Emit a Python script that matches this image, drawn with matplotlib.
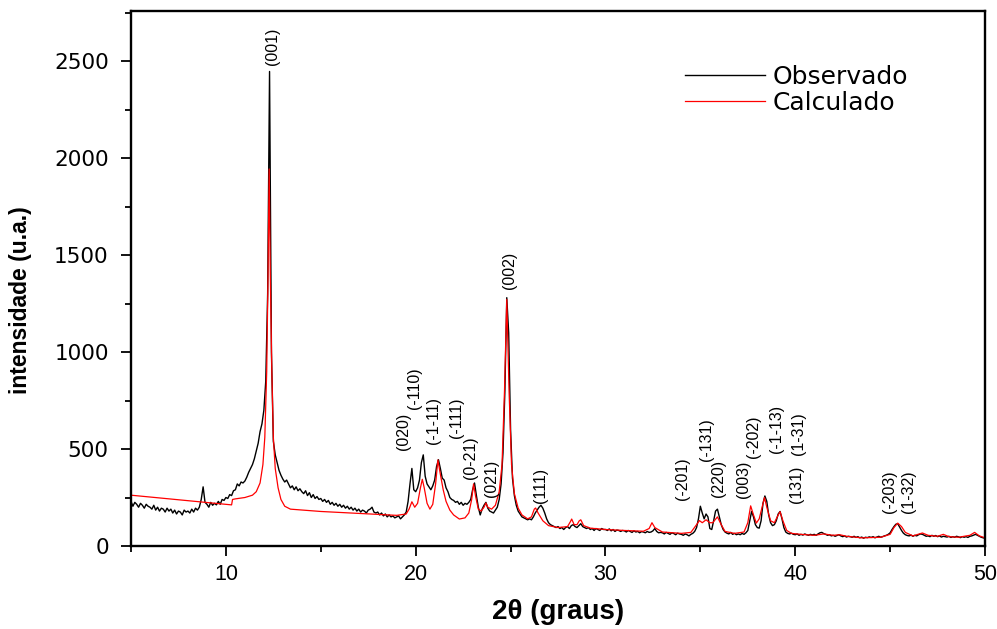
import numpy as np
import matplotlib
matplotlib.use("Agg")
import matplotlib.pyplot as plt
from matplotlib.ticker import MultipleLocator

start_angle = 5.0
angle_step = 0.1
observado = [
    230, 205, 225, 215, 200, 220, 210, 195, 215, 205,   # 5
    200, 190, 210, 185, 200, 180, 195, 190, 175, 195,   # 6
    180, 190, 170, 185, 165, 180, 175, 160, 185, 175,   # 7
    180, 170, 190, 175, 195, 185, 200, 240, 305, 225,   # 8
    215, 200, 225, 210, 220, 212, 230, 215, 240, 235,   # 9
    250, 245, 265, 260, 285, 290, 320, 310, 330, 325,   # 10
    335, 355, 380, 400, 420, 450, 490, 530, 590, 630,   # 11
    700, 850, 1300, 2448, 1000, 540, 470, 430, 390, 365,  # 12
    345, 330, 340, 320, 300, 310, 290, 305, 285, 295,   # 13
    280, 270, 285, 260, 275, 250, 265, 245, 255, 240,   # 14
    245, 230, 240, 225, 235, 215, 225, 210, 220, 205,   # 15
    215, 200, 210, 195, 205, 190, 200, 185, 195, 180,   # 16
    190, 175, 185, 180, 170, 185, 190, 200, 175, 170,   # 17
    175, 160, 170, 155, 165, 150, 160, 150, 155, 145,   # 18
    150, 155, 140, 150, 160, 175, 230, 320, 400, 290,   # 19
    280, 300, 340, 430, 470, 360, 320, 305, 290, 310,   # 20
    340, 410, 445, 400, 350, 340, 300, 280, 250, 240,   # 21
    235, 225, 230, 215, 225, 210, 220, 215, 225, 240,   # 22
    290, 325, 260, 200, 160, 190, 210, 225, 195, 180,   # 23
    175, 170, 185, 200, 240, 320, 480, 800, 1281, 1100,  # 24
    600, 350, 260, 210, 180, 165, 150, 145, 140, 135,   # 25
    140, 135, 150, 170, 185, 200, 210, 195, 170, 140,   # 26
    120, 110, 105, 100, 95, 100, 90, 95, 85, 95,        # 27
    100, 90, 105, 110, 100, 95, 105, 115, 100, 95,      # 28
    90, 95, 85, 90, 80, 90, 85, 80, 90, 85,             # 29
    85, 80, 88, 78, 85, 75, 82, 80, 75, 80,             # 30
    78, 72, 80, 75, 70, 78, 72, 75, 68, 74,             # 31
    72, 68, 75, 70, 72, 78, 90, 75, 68, 70,             # 32
    68, 62, 70, 65, 60, 68, 64, 58, 66, 62,             # 33
    60, 55, 62, 58, 52, 60, 65, 75, 95, 140,            # 34
    205, 170, 140, 165, 150, 90, 85, 130, 180, 190,     # 35
    150, 110, 85, 72, 66, 62, 70, 60, 65, 58,           # 36
    62, 58, 65, 60, 68, 80, 130, 178, 150, 110,         # 37
    95, 92, 130, 220, 258, 230, 160, 120, 105, 110,     # 38
    130, 165, 178, 140, 95, 72, 65, 62, 66, 60,         # 39
    58, 62, 55, 60, 56, 62, 58, 55, 60, 57,             # 40
    60, 55, 62, 68, 70, 64, 60, 55, 58, 52,             # 41
    55, 50, 54, 58, 52, 48, 52, 46, 50, 48,             # 42
    45, 50, 44, 48, 42, 46, 40, 45, 43, 47,             # 43
    44, 48, 42, 46, 50, 45, 48, 52, 55, 60,             # 44
    68, 85, 100, 112, 115, 98, 80, 66, 58, 54,          # 45
    52, 56, 50, 55, 52, 58, 62, 60, 55, 50,             # 46
    52, 48, 55, 50, 54, 48, 52, 46, 50, 48,             # 47
    46, 50, 44, 48, 45, 50, 47, 43, 48, 45,             # 48
    48, 44, 50, 52, 56, 60, 55, 50, 45, 42,             # 49
    40,                                                 # 50
]
angulo_obs = start_angle + angle_step * np.arange(len(observado))

# calculated (fitted) profile
angulo_calc = [
    5.0, 10.3, 10.35, 10.5, 11.0, 11.4, 11.6, 11.8, 11.95, 12.05,
    12.15, 12.22, 12.28, 12.34, 12.42, 12.5, 12.6, 12.75, 12.9, 13.1,
    13.4, 15.0, 17.0, 19.0, 19.5, 19.65, 19.8, 19.95, 20.1, 20.25,
    20.35, 20.45, 20.6, 20.75, 20.9, 21.05, 21.17, 21.3, 21.45, 21.6,
    21.8, 22.0, 22.3, 22.6, 22.8, 22.95, 23.05, 23.15, 23.3, 23.45,
    23.6, 23.7, 23.8, 24.0, 24.2, 24.4, 24.55, 24.68, 24.8, 24.92,
    25.05, 25.2, 25.4, 25.6, 25.9, 26.1, 26.25, 26.32, 26.45, 26.7,
    27.0, 27.5, 28.0, 28.15, 28.22, 28.35, 28.5, 28.62, 28.7, 28.85,
    29.2, 30.0, 31.0, 32.0, 32.3, 32.45, 32.6, 33.0, 34.0, 34.5,
    34.8, 34.95, 35.1, 35.3, 35.5, 35.65, 35.9, 36.1, 36.3, 36.8,
    37.3, 37.5, 37.65, 37.8, 37.95, 38.1, 38.25, 38.38, 38.5, 38.7,
    38.9, 39.05, 39.2, 39.35, 39.55, 39.8, 40.3, 41.0, 41.5, 42.0,
    42.35, 42.7, 43.5, 44.5, 45.0, 45.2, 45.4, 45.6, 45.8, 46.2,
    46.7, 47.0, 47.5, 47.8, 48.1, 48.6, 49.2, 49.45, 49.7, 50.0,
]
calculado = [
    262, 212, 240, 243, 250, 262, 280, 325, 420, 560,
    900, 1400, 1945, 1400, 900, 560, 400, 300, 240, 205,
    190, 178, 168, 158, 165, 190, 228, 200, 220, 300,
    344, 300, 220, 190, 215, 320, 444, 370, 290, 230,
    185, 160, 139, 145, 170, 240, 320, 260, 190, 180,
    200, 222, 200, 190, 210, 280, 420, 800, 1272, 800,
    420, 270, 195, 160, 140, 150, 190, 196, 170, 130,
    105, 95, 100, 125, 139, 110, 110, 130, 135, 105,
    92, 85, 80, 76, 90, 120, 95, 72, 65, 70,
    110, 131, 120, 135, 120, 120, 150, 110, 75, 65,
    72, 120, 207, 160, 118, 140, 200, 250, 200, 130,
    120, 150, 177, 130, 80, 65, 60, 55, 62, 55,
    58, 50, 42, 45, 60, 95, 118, 100, 70, 52,
    67, 55, 50, 60, 48, 45, 55, 70, 52, 42,
]

# reflection labels: (text, angle, intensity at label base)
reflexoes = ["(001)", "(020)", "(-110)", "(-1-11)", "(-111)", "(0-21)", "(021)",
             "(002)", "(111)", "(-201)", "(-131)", "(220)", "(003)", "(-202)",
             "(-1-13)", "(131)", "(1-31)", "(-203)", "(1-32)"]
pos_angulo = [12.45, 19.35, 19.96, 20.93, 22.15, 22.88, 24.0,
              24.95, 26.6, 34.05, 35.3, 35.93, 37.25, 37.82,
              39.02, 40.07, 40.15, 44.94, 45.95]
pos_intens = [2480, 495, 708, 525, 555, 345, 253,
              1325, 220, 238, 440, 254, 248, 455,
              480, 222, 470, 170, 170]

fig = plt.figure(figsize=(9.97, 6.29), dpi=100)
ax = fig.add_axes([0.1314, 0.132, 0.8566, 0.8505])

ax.plot(angulo_obs, observado, color="black", lw=1.0, label="Observado")
ax.plot(angulo_calc, calculado, color="red", lw=0.9, label="Calculado")

for txt, xa, ya in zip(reflexoes, pos_angulo, pos_intens):
    ax.text(xa, ya, txt, rotation=90, ha="center", va="bottom",
            fontsize=11.5, family="Liberation Sans")

ax.set_xlim(5, 50)
ax.set_ylim(0, 2760)
ax.xaxis.set_major_locator(MultipleLocator(10))
ax.xaxis.set_minor_locator(MultipleLocator(5))
ax.yaxis.set_major_locator(MultipleLocator(500))
ax.yaxis.set_minor_locator(MultipleLocator(250))

for s in ax.spines.values():
    s.set_linewidth(1.7)
ax.tick_params(which="major", direction="out", length=7, width=1.3)
ax.tick_params(which="minor", direction="out", length=4, width=1.3)
ax.tick_params(axis="y", pad=9, labelsize=15.5)
ax.tick_params(axis="x", pad=6, labelsize=15.5)
for lab in ax.get_xticklabels():
    lab.set_family("Liberation Sans")

ax.set_ylabel("intensidade (u.a.)", fontsize=16.5, fontweight="bold",
              family="Liberation Sans")
ax.yaxis.set_label_coords(-0.116, 0.46)
ax.set_xlabel("2\u03b8 (graus)", fontsize=20, fontweight="bold",
              family="Liberation Sans", labelpad=10)

leg = ax.legend(loc="upper left", bbox_to_anchor=(0.649, 0.90), frameon=False,
                fontsize=18, handlelength=3.2, handletextpad=0.3,
                labelspacing=0.1, borderpad=0, borderaxespad=0)

fig.savefig("out.png", dpi=100)
